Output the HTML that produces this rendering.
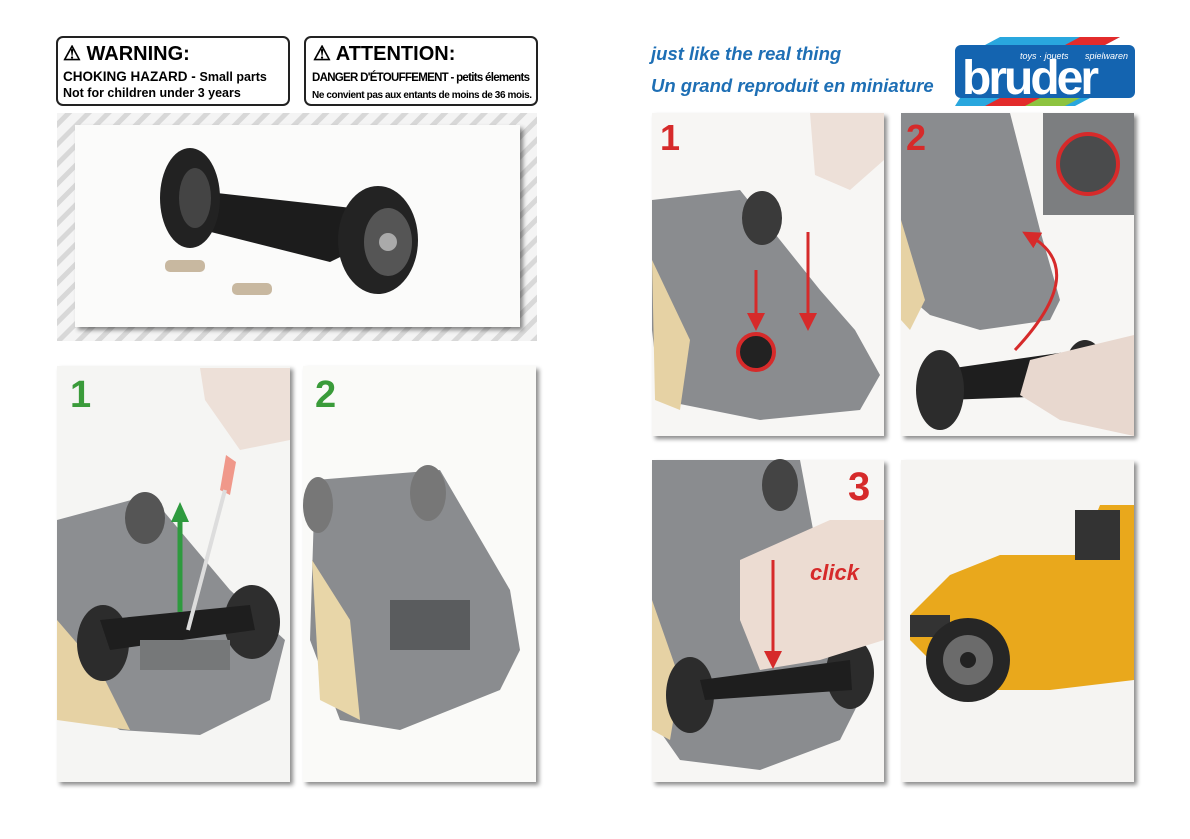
<!DOCTYPE html>
<html><head><meta charset="utf-8"><style>
html,body{margin:0;padding:0;background:#fff;}
svg{display:block}
</style></head><body>
<svg width="1190" height="839" viewBox="0 0 1190 839" xmlns="http://www.w3.org/2000/svg" font-family="Liberation Sans, sans-serif">
<defs>
<pattern id="st" width="14" height="14" patternUnits="userSpaceOnUse" patternTransform="rotate(45)">
<rect width="14" height="14" fill="#f4f4f4"/><rect width="5" height="14" fill="#d8d8d8"/></pattern>
<filter id="sh" x="-5%" y="-5%" width="115%" height="115%"><feDropShadow dx="3" dy="3" stdDeviation="2" flood-color="#000" flood-opacity="0.45"/></filter>
<marker id="ra" markerWidth="6" markerHeight="6" refX="3" refY="3" orient="auto"><path d="M0,0L6,3L0,6z" fill="#d62a2a"/></marker>
</defs>
<!-- warnings -->
<rect x="57" y="37" width="232" height="68" rx="6" fill="#fff" stroke="#222" stroke-width="2"/>
<text x="63" y="60" font-size="20" font-weight="bold">⚠  WARNING:</text>
<text x="63" y="81" font-size="13.5" font-weight="bold">CHOKING HAZARD - <tspan font-size="12.5">Small parts</tspan></text>
<text x="63" y="97" font-size="12.5" font-weight="bold">Not for children under 3 years</text>
<rect x="305" y="37" width="232" height="68" rx="6" fill="#fff" stroke="#222" stroke-width="2"/>
<text x="313" y="60" font-size="20" font-weight="bold">⚠  ATTENTION:</text>
<text x="312" y="81" font-size="11.5" font-weight="bold" textLength="218">DANGER D'ÉTOUFFEMENT - petits élements</text>
<text x="312" y="98" font-size="10" font-weight="bold" textLength="220">Ne convient pas aux entants de moins de 36 mois.</text>
<!-- top photo -->
<rect x="57" y="113" width="480" height="228" fill="url(#st)"/>
<rect x="75" y="125" width="445" height="202" fill="#fbfbfa" filter="url(#sh)"/>
<polygon points="190,190 370,210 375,240 330,262 195,228" fill="#1c1c1c"/>
<ellipse cx="190" cy="198" rx="30" ry="50" fill="#222"/><ellipse cx="195" cy="198" rx="16" ry="30" fill="#444"/>
<ellipse cx="378" cy="240" rx="40" ry="54" fill="#232323"/><ellipse cx="388" cy="242" rx="24" ry="34" fill="#555"/><circle cx="388" cy="242" r="9" fill="#aaa"/>
<rect x="165" y="260" width="40" height="12" fill="#c8b8a0" rx="5"/><rect x="232" y="283" width="40" height="12" fill="#c8b8a0" rx="5"/>
<!-- left panels -->
<rect x="57" y="366" width="233" height="416" fill="#f5f5f3" filter="url(#sh)"/>
<rect x="303" y="366" width="233" height="416" fill="#fafaf8" filter="url(#sh)"/>
<g>
<polygon points="57,520 150,495 230,590 285,640 270,700 200,735 120,730 57,690" fill="#8c8e91"/>
<polygon points="57,620 100,670 130,730 57,720" fill="#e6d2a4"/>
<ellipse cx="145" cy="518" rx="20" ry="26" fill="#555"/>
<ellipse cx="103" cy="643" rx="26" ry="38" fill="#2c2c2c"/><ellipse cx="252" cy="622" rx="28" ry="37" fill="#2e2e2e"/>
<polygon points="100,620 250,605 255,630 110,650" fill="#1e1e1e"/>
<rect x="140" y="640" width="90" height="30" fill="#767879"/>
<polygon points="200,368 290,368 290,440 240,450 205,400" fill="#ede0d8"/>
<polygon points="226,455 236,462 230,495 220,490" fill="#f0988a"/>
<line x1="225" y1="490" x2="188" y2="630" stroke="#ddd" stroke-width="4"/>
<line x1="180" y1="612" x2="180" y2="520" stroke="#2e9a3e" stroke-width="5"/>
<polygon points="171,522 180,502 189,522" fill="#2e9a3e"/>
<text x="70" y="407" font-size="38" font-weight="bold" fill="#3a9b3a">1</text>
</g>
<g>
<polygon points="315,480 440,470 510,590 520,650 500,690 400,730 340,720 310,640" fill="#8a8c8f"/>
<polygon points="312,560 350,620 360,720 320,700" fill="#e8d6a8"/>
<ellipse cx="318" cy="505" rx="15" ry="28" fill="#777"/><ellipse cx="428" cy="493" rx="18" ry="28" fill="#777"/>
<rect x="390" y="600" width="80" height="50" fill="#5a5c5e"/>
<text x="315" y="407" font-size="38" font-weight="bold" fill="#3a9b3a">2</text>
</g>
<!-- header right -->
<text x="651" y="60" font-size="18.5" font-style="italic" font-weight="bold" fill="#1e6fb5">just like the real thing</text>
<text x="651" y="92" font-size="18.5" font-style="italic" font-weight="bold" fill="#1e6fb5">Un grand reproduit en miniature</text>
<polygon points="985,45 1000,37 1120,37 1105,45" fill="#29a7de"/>
<polygon points="1065,45 1080,37 1120,37 1105,45" fill="#e32b2b"/>
<polygon points="960,98 1090,98 1075,106 955,106" fill="#29a7de"/>
<polygon points="1000,98 1060,98 1045,106 985,106" fill="#e32b2b"/>
<polygon points="1040,98 1080,98 1065,106 1025,106" fill="#8dc33f"/>
<rect x="955" y="45" width="180" height="53" rx="6" fill="#1464b0"/>
<text x="1020" y="59" font-size="9" font-style="italic" fill="#fff">toys · jouets</text>
<text x="1085" y="59" font-size="9" font-style="italic" fill="#fff">spielwaren</text>
<text x="962" y="94" font-size="48" font-weight="bold" fill="#fff" letter-spacing="-3">bruder</text>
<!-- R1 -->
<rect x="652" y="113" width="232" height="323" fill="#f7f6f4" filter="url(#sh)"/>
<polygon points="652,200 740,190 820,290 855,330 880,375 860,410 760,420 660,400 652,330" fill="#8a8c8f"/>
<polygon points="652,260 690,340 680,410 655,400" fill="#e6d2a4"/>
<ellipse cx="762" cy="218" rx="20" ry="27" fill="#3a3a3a"/>
<polygon points="810,113 884,113 884,160 850,190 815,175" fill="#ede0d8"/>
<circle cx="756" cy="352" r="18" fill="#222" stroke="#d62a2a" stroke-width="4"/>
<line x1="756" y1="270" x2="756" y2="322" stroke="#d62a2a" stroke-width="3" marker-end="url(#ra)"/>
<line x1="808" y1="232" x2="808" y2="322" stroke="#d62a2a" stroke-width="3" marker-end="url(#ra)"/>
<text x="660" y="150" font-size="36" font-weight="bold" fill="#d62a2a">1</text>
<!-- R2 -->
<rect x="901" y="113" width="233" height="323" fill="#f7f6f4" filter="url(#sh)"/>
<polygon points="901,113 1010,113 1040,230 1060,300 1050,320 980,330 930,315 901,290" fill="#8a8c8f"/>
<polygon points="901,220 925,300 910,330 901,320" fill="#e6d2a4"/>
<rect x="1043" y="113" width="91" height="102" fill="#7c7e80"/>
<circle cx="1088" cy="164" r="30" fill="#4a4b4c" stroke="#d62a2a" stroke-width="4"/>
<path d="M1015,350 Q1090,270 1030,236" fill="none" stroke="#d62a2a" stroke-width="3" marker-end="url(#ra)"/>
<polygon points="940,370 1080,350 1085,395 945,400" fill="#1e1e1e"/>
<ellipse cx="940" cy="390" rx="24" ry="40" fill="#2c2c2c"/><ellipse cx="1085" cy="370" rx="20" ry="30" fill="#2a2a2a"/>
<polygon points="1030,360 1134,335 1134,436 1060,420 1020,395" fill="#e8d8cf"/>
<text x="906" y="150" font-size="36" font-weight="bold" fill="#d62a2a">2</text>
<!-- R3 -->
<rect x="652" y="460" width="232" height="322" fill="#f7f6f4" filter="url(#sh)"/>
<polygon points="652,460 800,460 830,620 860,700 840,740 760,770 680,760 652,720" fill="#8a8c8f"/>
<polygon points="652,600 680,680 670,740 652,730" fill="#e6d2a4"/>
<ellipse cx="780" cy="485" rx="18" ry="26" fill="#444"/>
<ellipse cx="690" cy="695" rx="24" ry="38" fill="#2c2c2c"/><ellipse cx="850" cy="673" rx="24" ry="36" fill="#2c2c2c"/>
<polygon points="700,680 850,660 852,690 705,700" fill="#1e1e1e"/>
<polygon points="740,560 830,520 884,520 884,640 820,660 760,670 740,620" fill="#ecdcd2"/>
<line x1="773" y1="560" x2="773" y2="660" stroke="#d62a2a" stroke-width="3" marker-end="url(#ra)"/>
<text x="810" y="580" font-size="22" font-style="italic" font-weight="bold" fill="#d62a2a">click</text>
<text x="848" y="500" font-size="40" font-weight="bold" fill="#d62a2a">3</text>
<!-- R4 -->
<rect x="901" y="460" width="233" height="322" fill="#f5f4f2" filter="url(#sh)"/>
<polygon points="950,575 1000,555 1080,555 1100,505 1134,505 1134,680 1050,690 960,690 910,640 910,615" fill="#e9a81c"/>
<rect x="1075" y="510" width="45" height="50" fill="#333"/>
<rect x="910" y="615" width="40" height="22" fill="#333"/>
<circle cx="968" cy="660" r="42" fill="#262626"/><circle cx="968" cy="660" r="25" fill="#6b6b6b"/><circle cx="968" cy="660" r="8" fill="#222"/>
</svg>
</body></html>
